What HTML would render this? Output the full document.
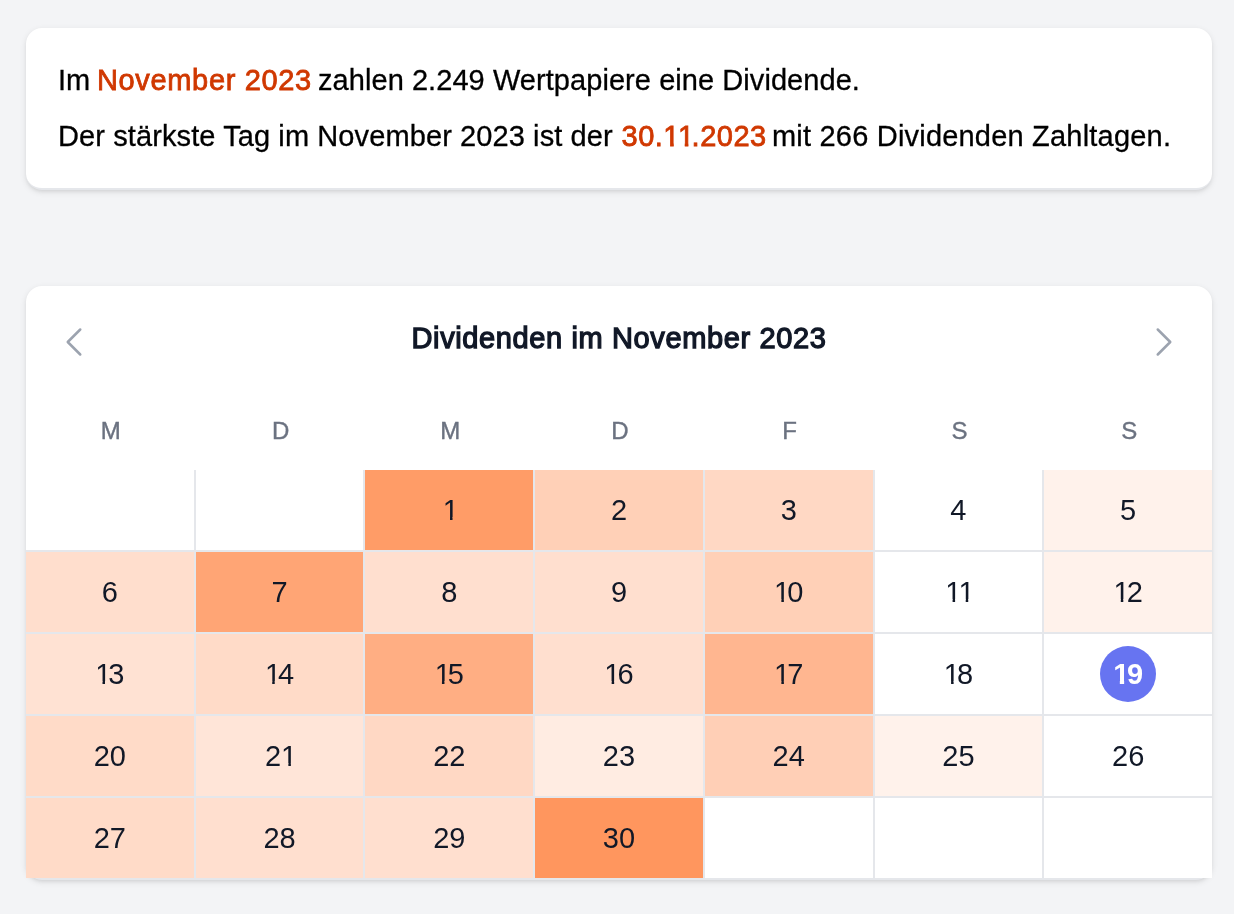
<!DOCTYPE html>
<html lang="de">
<head>
<meta charset="utf-8">
<title>Dividenden im November 2023</title>
<style>
*{box-sizing:border-box;margin:0;padding:0}
html,body{width:1234px;height:914px;overflow:hidden;background:#f3f4f6;font-family:"Liberation Sans",sans-serif;}
.line,.title,.wd,.grid{will-change:transform}
.card{position:absolute;left:26px;width:1186px;background:#fff;border-radius:16px;border-bottom:2px solid #e5e7eb;box-shadow:0 2px 6px 0 rgba(0,0,0,.1),0 2px 4px -2px rgba(0,0,0,.1);}
#c1{top:28px;height:162px}
#c2{top:286px;height:594px}
.line{position:absolute;left:32px;font-size:29px;line-height:40px;color:#000;white-space:nowrap;height:40px;-webkit-text-stroke:0.3px #000}
.line span{position:absolute;top:0}
.hl{color:#d03801;-webkit-text-stroke:0.8px #d03801;letter-spacing:0.35px}
.title{position:absolute;left:0;right:0;top:32px;letter-spacing:0.62px;text-align:center;font-size:29px;line-height:40px;color:#111827;-webkit-text-stroke:1.3px #111827}
.chev{position:absolute;top:36px;width:40px;height:40px}
.wd{position:absolute;top:121px;left:0.5px;width:1186px;display:grid;grid-template-columns:repeat(7,1fr);column-gap:2px;font-size:24px;line-height:48px;color:#6b7280;text-align:center;-webkit-text-stroke:0.4px #6b7280}
.grid{position:absolute;top:184px;left:0;width:1186px;height:408px;background:#e5e7eb;display:grid;grid-template-columns:repeat(7,1fr);grid-template-rows:repeat(5,80px);gap:2px}
.grid div{background:#fff;font-size:29px;line-height:80px;text-align:center;color:#111827}
.today{display:inline-block;width:56px;height:56px;border-radius:50%;background:#6774f1;color:#fff;font-weight:700;line-height:56px;vertical-align:middle;margin-top:-4px}
.o,.ob,.oh{font-style:normal;display:inline-block}
.o{margin-right:-3px;clip-path:polygon(0 0,100% 0,100% 47px,9.82px 47px,9.82px 100%,7.3px 100%,7.3px 47px,0 47px)}
.oh{clip-path:polygon(0 0,100% 0,100% 27px,10.4px 27px,10.4px 100%,6.8px 100%,6.8px 27px,0 27px)}
.ob{margin-right:-2.5px;clip-path:polygon(0 0,100% 0,100% 34.6px,10.9px 34.6px,10.9px 100%,6.6px 100%,6.6px 34.6px,0 34.6px)}
</style>
</head>
<body>
<div class="card" id="c1">
  <div class="line" style="top:32px"><span style="left:0">Im</span><span class="hl" style="left:39px;letter-spacing:0.65px">November 2023</span><span style="left:260px;letter-spacing:0.06px">zahlen 2.249 Wertpapiere eine Dividende.</span></div>
  <div class="line" style="top:88px"><span style="left:0;letter-spacing:0.1px">Der stärkste Tag im November 2023 ist der</span><span class="hl" style="left:563.5px;letter-spacing:0.5px">30.<i class="oh" style="margin-right:-2px">1</i><i class="oh" style="margin-right:-3px">1</i>.2023</span><span style="left:714px;letter-spacing:0.2px">mit 266 Dividenden Zahltagen.</span></div>
</div>
<div class="card" id="c2">
  <svg class="chev" style="left:28px" viewBox="0 0 24 24" fill="none" stroke="#9ca3af" stroke-width="1.5" stroke-linecap="round" stroke-linejoin="round"><path d="M15.75 19.5 8.25 12l7.5-7.5"/></svg>
  <div class="title">Dividenden im November 2023</div>
  <svg class="chev" style="left:1118px" viewBox="0 0 24 24" fill="none" stroke="#9ca3af" stroke-width="1.5" stroke-linecap="round" stroke-linejoin="round"><path d="m8.25 4.5 7.5 7.5-7.5 7.5"/></svg>
  <div class="wd"><div>M</div><div>D</div><div>M</div><div>D</div><div>F</div><div>S</div><div>S</div></div>
  <div class="grid">
    <div></div><div></div>
    <div style="background:#ff9c67"><i class="o">1</i></div>
    <div style="background:#ffd0b7">2</div>
    <div style="background:#ffd8c4">3</div>
    <div>4</div>
    <div style="background:#fff2eb">5</div>

    <div style="background:#ffdecd">6</div>
    <div style="background:#ffa575">7</div>
    <div style="background:#ffdfcf">8</div>
    <div style="background:#ffdfcf">9</div>
    <div style="background:#ffd0b7"><i class="o">1</i>0</div>
    <div><i class="o">1</i><i class="o">1</i></div>
    <div style="background:#fff2eb"><i class="o">1</i>2</div>

    <div style="background:#ffe2d3"><i class="o">1</i>3</div>
    <div style="background:#ffdbc8"><i class="o">1</i>4</div>
    <div style="background:#ffae83"><i class="o">1</i>5</div>
    <div style="background:#ffdfcf"><i class="o">1</i>6</div>
    <div style="background:#ffb690"><i class="o">1</i>7</div>
    <div><i class="o">1</i>8</div>
    <div><span class="today"><i class="ob">1</i>9</span></div>

    <div style="background:#ffdbc8">20</div>
    <div style="background:#ffe5d8">2<i class="o">1</i></div>
    <div style="background:#ffd8c4">22</div>
    <div style="background:#ffece2">23</div>
    <div style="background:#ffcfb6">24</div>
    <div style="background:#fff2eb">25</div>
    <div>26</div>

    <div style="background:#ffdbc8">27</div>
    <div style="background:#ffdfcf">28</div>
    <div style="background:#ffdfcf">29</div>
    <div style="background:#ff965e">30</div>
    <div></div><div></div><div></div>
  </div>
</div>
</body>
</html>
